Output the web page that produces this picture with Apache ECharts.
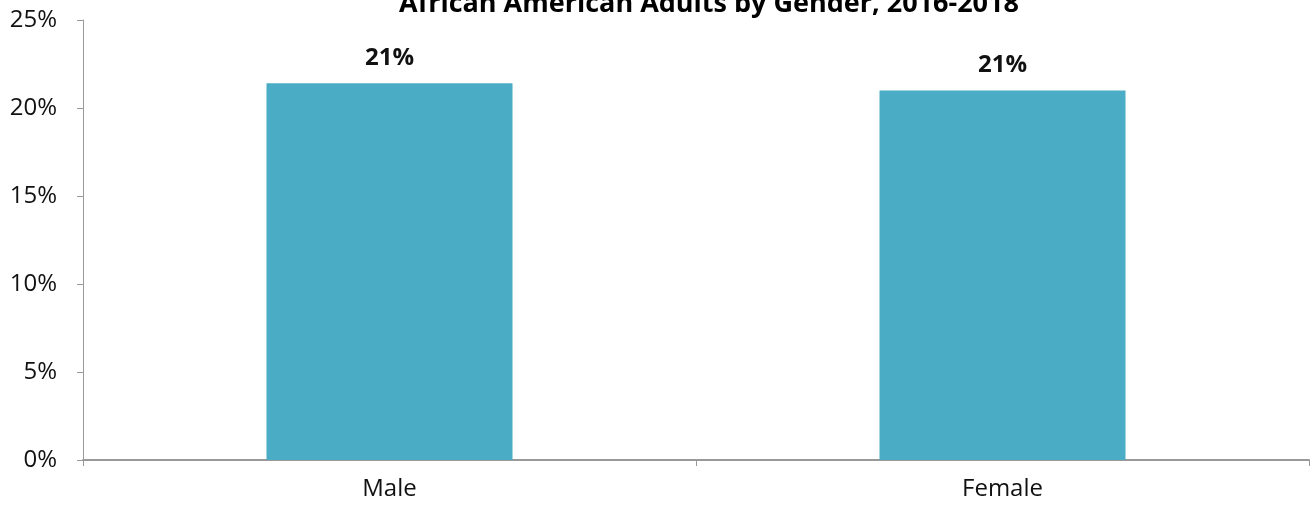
<!DOCTYPE html>
<html>
<head>
<meta charset="utf-8">
<script src="https://cdn.jsdelivr.net/npm/echarts@6/dist/echarts.min.js"></script>
<style>html,body{margin:0;padding:0;background:#fff}#c{width:1312px;height:508px}</style>
</head>
<body>
<div id="c"></div>
<script>
const titleText = 'African American Adults by Gender, 2016-2018';
const categories = ['Male', 'Female'];
const values = [21.4, 21.0];
const yTicks = [0, 5, 10, 15, 20, 25];

const chart = echarts.init(document.getElementById('c'));
chart.setOption({
  animation: false,
  title: {
    text: titleText,
    left: 704, textAlign: 'center', top: -14,
    textStyle: { fontFamily: 'Open Sans', fontWeight: 'bold', fontSize: 27, color: '#000' }
  },
  grid: { left: 83, right: 3, top: 20, bottom: 48, containLabel: false },
  xAxis: {
    type: 'category', data: categories, boundaryGap: true,
    axisLine: { lineStyle: { color: '#999', width: 2 } },
    axisTick: { show: true, length: 6, lineStyle: { color: '#999', width: 1 }, alignWithLabel: false },
    axisLabel: { fontFamily: 'Open Sans', fontSize: 24, color: '#111', margin: 17 }
  },
  yAxis: {
    type: 'value', min: yTicks[0], max: yTicks[yTicks.length - 1], interval: 5,
    axisLine: { show: true, lineStyle: { color: '#999', width: 1 } },
    axisTick: { show: true, length: 6, lineStyle: { color: '#999' } },
    splitLine: { show: false },
    axisLabel: { fontFamily: 'Open Sans', fontSize: 24, color: '#111', margin: 26, formatter: v => v + '%' }
  },
  series: [{
    type: 'bar', data: values, barWidth: 246,
    itemStyle: { color: '#4BACC6' },
    label: {
      show: true, position: 'top', distance: 13,
      fontFamily: 'Open Sans', fontWeight: 'bold', fontSize: 24, color: '#111',
      formatter: p => Math.round(p.value) + '%'
    }
  }]
});
</script>
</body>
</html>
